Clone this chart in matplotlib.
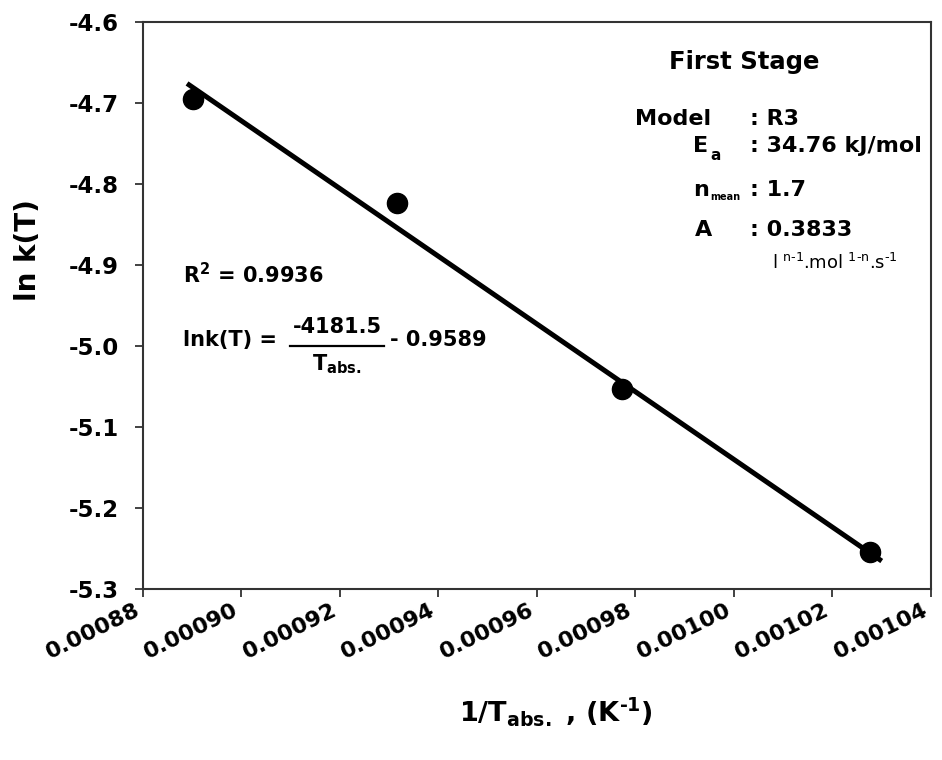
import numpy as np
import matplotlib
matplotlib.use("Agg")
import matplotlib.pyplot as plt
from matplotlib.lines import Line2D

# Arrhenius data, first stage
inv_T = [0.00089015, 0.00093168, 0.00097722, 0.0010276]
ln_k = [-4.6958, -4.8235, -5.0538, -5.2551]

# linear fit reported on the plot
slope = -4181.5
intercept = -0.9589
r2 = 0.9936
fit_range = [0.000889, 0.00103]

x_ticks = [0.00088, 0.00090, 0.00092, 0.00094, 0.00096, 0.00098, 0.00100, 0.00102, 0.00104]
x_ticklabels = ["0.00088", "0.00090", "0.00092", "0.00094", "0.00096",
                "0.00098", "0.00100", "0.00102", "0.00104"]
y_ticks = [-4.6, -4.7, -4.8, -4.9, -5.0, -5.1, -5.2, -5.3]

HY = "\u2010"  # short hyphen for exponents

plt.rcParams["font.family"] = ["DejaVu Sans"]
plt.rcParams["font.weight"] = "bold"
plt.rcParams["mathtext.fontset"] = "custom"
plt.rcParams["mathtext.rm"] = "DejaVu Sans:bold"
plt.rcParams["mathtext.it"] = "DejaVu Sans:bold"
plt.rcParams["mathtext.bf"] = "DejaVu Sans:bold"

W, H = 942, 760
fig = plt.figure(figsize=(W / 100, H / 100), dpi=100)
ax = fig.add_axes([142.7 / W, 1 - 588.7 / H, (931 - 142.7) / W, (588.7 - 21.7) / H])

# regression line and points
xf = np.array(fit_range)
ax.plot(xf, slope * xf + intercept, color="black", lw=3.6, solid_capstyle="butt", zorder=2)
ax.plot(inv_T, ln_k, "o", color="black", ms=14.5, zorder=3)

ax.set_xlim(0.00088, 0.00104)
ax.set_ylim(-5.3, -4.6)
ax.set_xticks(x_ticks)
ax.set_xticklabels(x_ticklabels, rotation=26, ha="right", fontsize=16, fontweight="bold")
ax.set_yticks(y_ticks)
ax.set_yticklabels([f"{v:.1f}" for v in y_ticks], fontsize=16.5, fontweight="bold")
ax.tick_params(direction="out", length=6, width=1.3, color="#333333")
ax.tick_params(axis="y", pad=11)
ax.tick_params(axis="x", pad=2)
for sp in ax.spines.values():
    sp.set_linewidth(1.5)
    sp.set_color("#333333")

fig.text(28 / W, 1 - 250 / H, "ln k(T)", fontsize=20, fontweight="bold",
         rotation=90, ha="center", va="center")
fig.text(556 / W, 1 - 712 / H, "1/T$_{\\mathregular{abs.}}$ , (K$^{\\mathregular{" + HY + "1}}$)",
         fontsize=19.5, fontweight="bold", ha="center", va="center")


def ftxt(x, y, s, size=16, **kw):
    kw.setdefault("fontweight", "bold")
    return fig.text(x / W, 1 - y / H, s, fontsize=size, va="center", **kw)


# kinetic parameter block
ftxt(744, 62, "First Stage", 17.5, ha="center")
ftxt(635, 119, "Model", 16)
ftxt(750, 119, ": R3", 16)
ftxt(693, 146, "E", 16)
ftxt(710, 155, "a", 11)
ftxt(750, 146, ": 34.76 kJ/mol", 16)
ftxt(693, 190, "n", 16)
ftxt(710, 197, "mean", 7)
ftxt(750, 190, ": 1.7", 16)
ftxt(695, 230, "A", 16)
ftxt(750, 230, ": 0.3833", 16)
ftxt(772, 263, "l $^{\\mathregular{n" + HY + "1}}$.mol $^{\\mathregular{1" + HY + "n}}$.s$^{\\mathregular{"
     + HY + "1}}$", 13, fontweight="normal")

# fit statistics and equation
ftxt(183, 275, "R$^{\\mathregular{2}}$ = 0.9936", 15)
ftxt(183, 340, "lnk(T) =", 15)
ftxt(337, 327, f"{slope}", 15, ha="center")
fig.add_artist(Line2D([290 / W, 384 / W], [1 - 346 / H, 1 - 346 / H],
                      color="black", lw=1.6, transform=fig.transFigure))
ftxt(337, 364, "T$_{\\mathregular{abs.}}$", 15, ha="center")
ftxt(390, 340, f"- {abs(intercept)}", 15)

fig.savefig("out.png", dpi=100)
